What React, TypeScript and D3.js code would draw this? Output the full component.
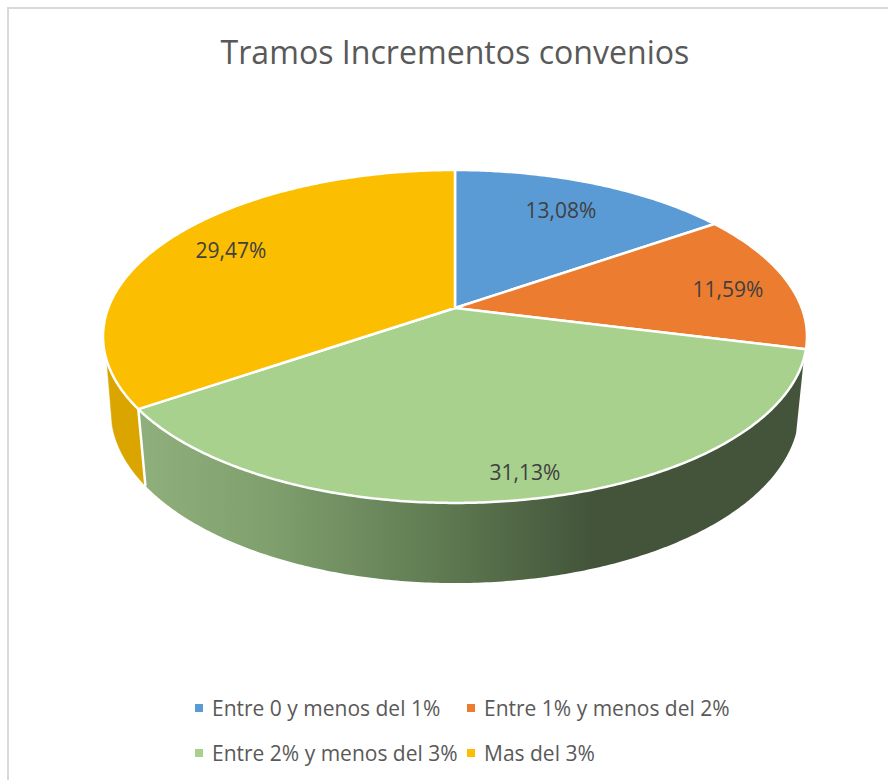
import React from "react";
import * as d3 from "d3";

const title = "Tramos Incrementos convenios";
const categories = ["Entre 0 y menos del 1%", "Entre 1% y menos del 2%", "Entre 2% y menos del 3%", "Mas del 3%"];
const values = [13.08, 11.59, 31.13, 29.47];
const valueLabels = ["13,08%", "11,59%", "31,13%", "29,47%"];
const colors = ["#5B9BD5", "#EC7C30", "#A9D18E", "#FCBE00"];

const labelPos: [number, number][] = [[561, 212], [728, 291], [525, 474], [231, 252]];
const legendPos: [number, number][] = [[199, 708], [471, 708], [199, 753], [471, 753]];

const FONT = "'Open Sans', sans-serif";
const CX = 455;

// Perspective projection of a unit disc onto the screen
function project(a: number, b: number, y0: number, k: number) {
  return (theta: number): [number, number] => {
    const X = Math.sin(theta), Y = Math.cos(theta), d = 1 + k * Y;
    return [CX + (a * X) / d, y0 - (b * Y) / d];
  };
}
const topDisc = project(346.8, 161.6, 308, 0.171);
const botDisc = project(339, 167.5, 381, 0.171);

const line = d3.line();
const rad = (d: number) => (d * Math.PI) / 180;

function arcPts(fn: (t: number) => [number, number], a0: number, a1: number) {
  const n = Math.max(2, Math.ceil(Math.abs(a1 - a0) / 0.01));
  return d3.range(n + 1).map((i) => fn(a0 + ((a1 - a0) * i) / n));
}

export default function App() {
  const pie = d3.pie<number>().sort(null)(values);
  const green = pie[2];
  const yellow = pie[3];

  const wall = (t0: number, t1: number, b0: number, b1: number) => {
    const t = arcPts(topDisc, t0, t1);
    const b = arcPts(botDisc, b0, b1).reverse();
    return line([...t, ...b]) + "Z";
  };

  return (
    <svg width={888} height={780} style={{ position: "absolute", left: 0, top: 0, background: "#fff" }} fontFamily={FONT}>
      <defs>
        <linearGradient id="greenSide" gradientUnits="userSpaceOnUse" x1={139} x2={806} y1={0} y2={0}>
          <stop offset="0" stopColor="#8FB07C" />
          <stop offset="0.2" stopColor="#7F9F6D" />
          <stop offset="0.45" stopColor="#5F7B52" />
          <stop offset="0.68" stopColor="#43543A" />
          <stop offset="1" stopColor="#43543A" />
        </linearGradient>
      </defs>
      <path d="M8 780V8H888" fill="none" stroke="#D9D9D9" strokeWidth={2} />
      <text x={455} y={64} textAnchor="middle" fontSize={32.1} fill="#595959">{title}</text>

      <path d={wall(yellow.startAngle, rad(252), yellow.startAngle, rad(255.4))} fill="#DBA500" stroke="#DBA500" strokeWidth={0.5} />
      <path d={wall(rad(107.3), green.endAngle, rad(107.1), green.endAngle)} fill="url(#greenSide)" />
      <path d={line([topDisc(green.endAngle), botDisc(green.endAngle)]) ?? ""} stroke="#fff" strokeWidth={2.5} fill="none" />

      {pie.map((s, i) => {
        const pts = arcPts(topDisc, s.startAngle, s.endAngle);
        return (
          <path key={i} d={line([[CX, 308], ...pts]) + "Z"} fill={colors[i]} stroke="#fff" strokeWidth={2.5} strokeLinejoin="round" />
        );
      })}

      {valueLabels.map((t, i) => (
        <text key={i} x={labelPos[i][0]} y={labelPos[i][1]} textAnchor="middle" dominantBaseline="middle" fontSize={21} fill="#404040">{t}</text>
      ))}

      {categories.map((c, i) => (
        <g key={i}>
          <rect x={legendPos[i][0] - 4} y={legendPos[i][1] - 4} width={8} height={8} fill={colors[i]} />
          <text x={legendPos[i][0] + 13} y={legendPos[i][1] + 2} dominantBaseline="middle" fontSize={21} fill="#595959">{c}</text>
        </g>
      ))}
    </svg>
  );
}
